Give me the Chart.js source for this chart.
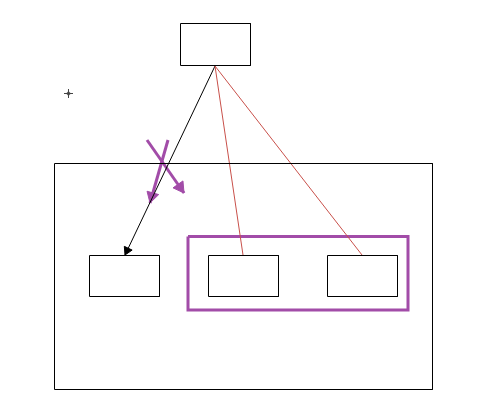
<!DOCTYPE html>
<html lang="en">
<head>
  <meta charset="UTF-8">
  <title>Diagram</title>
  <style>
    body { margin: 0; background: #fff; }
  </style>
</head>
<body>
<canvas id="diagram" width="495" height="411"></canvas>
<script src="https://cdn.jsdelivr.net/npm/chart.js"></script>
<script>
// boxes as [x1, y1, x2, y2] in plot units (axes are 0..495 and 0..411)
const boxes = [
  [180.5, 23.5, 250.5, 65.5],
  [54.5, 163.5, 432.5, 389.5],
  [89.5, 255.5, 159.5, 296.5],
  [208.5, 255.5, 278.5, 296.5],
  [327.5, 255.5, 397.5, 296.5]
]
const groupBox = [188, 236.5, 408, 310]

// links from top box: [from, to]
const blackArrow = [[215, 66], [125, 255]]
const redLinks = [
  [[215, 66], [243, 255]],
  [[215, 66], [362, 255]]
]
const purpleArrows = [
  [[147, 140], [184, 193]],
  [[168, 140], [150, 203]]
]
const marker = [68.5, 93.5]

function rectPoints(b) {
  return [
    {x: b[0], y: b[1]}, {x: b[2], y: b[1]}, {x: b[2], y: b[3]},
    {x: b[0], y: b[3]}, {x: b[0], y: b[1]}
  ]
}

function lineSet(pts, color, width) {
  return {
    data: pts,
    showLine: true,
    borderColor: color,
    borderWidth: width,
    pointRadius: 0,
    borderJoinStyle: 'miter',
    clip: false
  }
}

// arrow head: triangle point placed back from the tip, rotated along the link
function headSet(links, color, r) {
  let pts = links.map(function (l) {
    let dx = l[1][0] - l[0][0], dy = l[1][1] - l[0][1]
    let len = Math.sqrt(dx * dx + dy * dy)
    return {x: l[1][0] - dx / len * r, y: l[1][1] - dy / len * r,
            rot: Math.atan2(dx, -dy) * 180 / Math.PI}
  })
  return {
    data: pts,
    showLine: false,
    pointStyle: 'triangle',
    pointRadius: r,
    pointRotation: function (ctx) { return pts[ctx.dataIndex] ? pts[ctx.dataIndex].rot : 0 },
    backgroundColor: color,
    borderColor: color,
    borderWidth: 1,
    clip: false
  }
}

let datasets = []
boxes.forEach(function (b) { datasets.push(lineSet(rectPoints(b), '#000', 1)) })
redLinks.forEach(function (l) {
  datasets.push(lineSet(l.map(p => ({x: p[0], y: p[1]})), '#c8504a', 1))
})
datasets.push(lineSet(blackArrow.map(p => ({x: p[0], y: p[1]})), '#000', 1))
datasets.push(headSet([blackArrow], '#000', 5))
datasets.push(lineSet(rectPoints(groupBox), '#a24ca8', 3))
purpleArrows.forEach(function (l) {
  datasets.push(lineSet(l.map(p => ({x: p[0], y: p[1]})), '#a24ca8', 3))
})
datasets.push(headSet(purpleArrows, '#a24ca8', 7))
datasets.push({
  data: [{x: marker[0], y: marker[1]}],
  pointStyle: 'cross', pointRadius: 4.5, borderColor: '#444', borderWidth: 1
})
datasets.push({
  data: [{x: marker[0], y: marker[1]}],
  pointStyle: 'circle', pointRadius: 1.5, borderColor: '#444',
  backgroundColor: '#fff', borderWidth: 1
})

new Chart(document.getElementById('diagram'), {
  type: 'scatter',
  data: { datasets: datasets },
  options: {
    responsive: false,
    animation: false,
    devicePixelRatio: 1,
    layout: { padding: 0, autoPadding: false },
    plugins: { legend: { display: false }, tooltip: { enabled: false } },
    scales: {
      x: { type: 'linear', min: 0, max: 495, display: false },
      y: { type: 'linear', min: 0, max: 411, reverse: true, display: false }
    }
  }
})
</script>
</body>
</html>
